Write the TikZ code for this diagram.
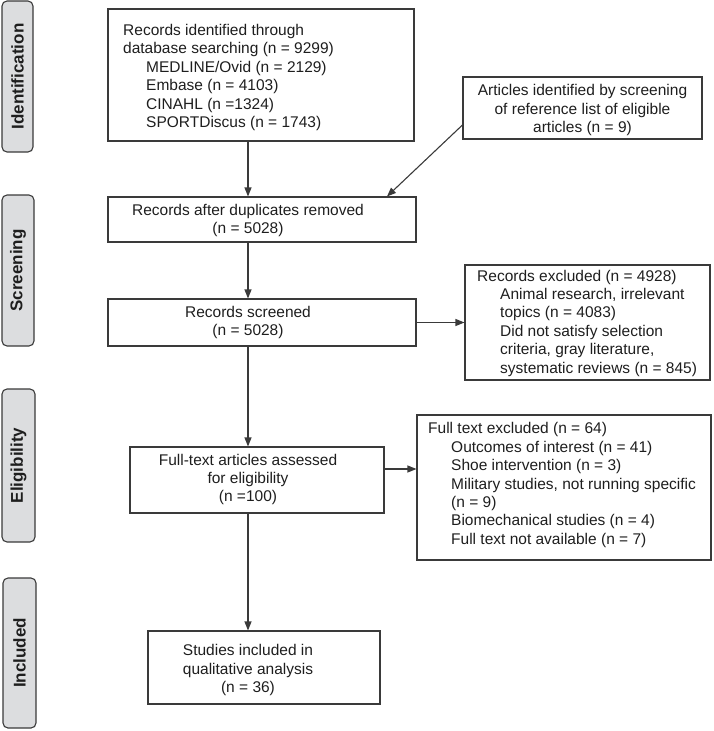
\documentclass[tikz,border=0pt]{standalone}
\usepackage{fontspec}
\setmainfont{Liberation Sans}
\usetikzlibrary{arrows.meta,calc}
\definecolor{ln}{HTML}{3A3A3A}
\definecolor{sidefill}{HTML}{DCDDDF}
\definecolor{txt}{HTML}{1E1E1E}
\newcommand{\fs}{\fontsize{15.5}{18.4}\selectfont}
\newcommand{\sidefs}{\fontsize{17}{18}\selectfont\bfseries}
\newcommand{\ind}{\hspace*{23pt}}
\begin{document}
\begin{tikzpicture}[x=1pt,y=-1pt,
  box/.style={draw=ln,line width=1.1pt,inner sep=0pt},
  lbl/.style={text=txt,font=\fs,inner sep=0pt},
  sidebox/.style={draw=ln,line width=1.1pt,fill=sidefill,rounded corners=5pt,rotate=90,
     text=txt,font=\sidefs,inner sep=0pt},
  arr/.style={draw=ln,line width=1.1pt,-{Triangle[length=9pt,width=7pt]}}]
\useasboundingbox (0,0) rectangle (713,731);

% sidebars
\node[sidebox,minimum width=151,minimum height=31] (sid1) at (17.5,76.5) {Identification};
\node[sidebox,minimum width=151,minimum height=32] (sid2) at (18,270.5) {Screening};
\node[sidebox,minimum width=153,minimum height=33] (sid3) at (18.5,465.5) {Eligibility};
\node[sidebox,minimum width=150,minimum height=33] (sid4) at (19.5,653) {Included};

% boxes
\node[box,minimum width=306,minimum height=132] (b1) at (261,75) {};
\node[box,minimum width=239,minimum height=62] (art) at (582.5,108) {};
\node[box,minimum width=308,minimum height=45] (b2) at (262,219.5) {};
\node[box,minimum width=308,minimum height=47] (b3) at (262,322.5) {};
\node[box,minimum width=245,minimum height=115] (ex1) at (587.5,322.5) {};
\node[box,minimum width=254,minimum height=66] (b4) at (257,480) {};
\node[box,minimum width=294,minimum height=145] (ex2) at (564,487.5) {};
\node[box,minimum width=232,minimum height=73] (b5) at (264,667.5) {};

% texts
\node[lbl,anchor=west,align=left] (t1) at (123,77.5) {Records identified through\\database searching (n = 9299)\\\ind MEDLINE/Ovid (n = 2129)\\\ind Embase (n = 4103)\\\ind CINAHL (n =1324)\\\ind SPORTDiscus (n = 1743)};
\node[lbl,align=center] (tart) at (582.5,110) {Articles identified by screening\\of reference list of eligible\\articles (n = 9)};
\node[lbl,align=center] (t2) at (248,220.5) {Records after duplicates removed\\(n = 5028)};
\node[lbl,align=center] (t3) at (248,322.5) {Records screened\\(n = 5028)};
\node[lbl,anchor=west,align=left] (tex1) at (477,323) {Records excluded (n = 4928)\\\ind Animal research, irrelevant\\\ind topics (n = 4083)\\\ind Did not satisfy selection\\\ind criteria, gray literature,\\\ind systematic reviews (n = 845)};
\node[lbl,align=center] (t4) at (248,479.5) {Full-text articles assessed\\for eligibility\\(n =100)};
\node[lbl,anchor=west,align=left] (tex2) at (428,485) {Full text excluded (n = 64)\\\ind Outcomes of interest (n = 41)\\\ind Shoe intervention (n = 3)\\\ind Military studies, not running specific\\\ind (n = 9)\\\ind Biomechanical studies (n = 4)\\\ind Full text not available (n = 7)};
\node[lbl,align=center] (t5) at (248,670) {Studies included in\\qualitative analysis\\(n = 36)};

% connectors
\coordinate (cx) at (248,0);
\coordinate (dx) at (387,0);
\coordinate (ay) at (0,125);
\coordinate (ey) at (0,469);
\draw[arr] (b1.south -| cx) -- (b2.north -| cx);
\draw[arr] (art.west |- ay) -- (b2.north -| dx);
\draw[arr] (b2.south -| cx) -- (b3.north -| cx);
\draw[arr] (b3.east |- ex1.west) -- (ex1.west);
\draw[arr] (b3.south -| cx) -- (b4.north -| cx);
\draw[arr] (b4.east |- ey) -- (ex2.west |- ey);
\draw[arr] (b4.south -| cx) -- (b5.north -| cx);
\end{tikzpicture}
\end{document}
